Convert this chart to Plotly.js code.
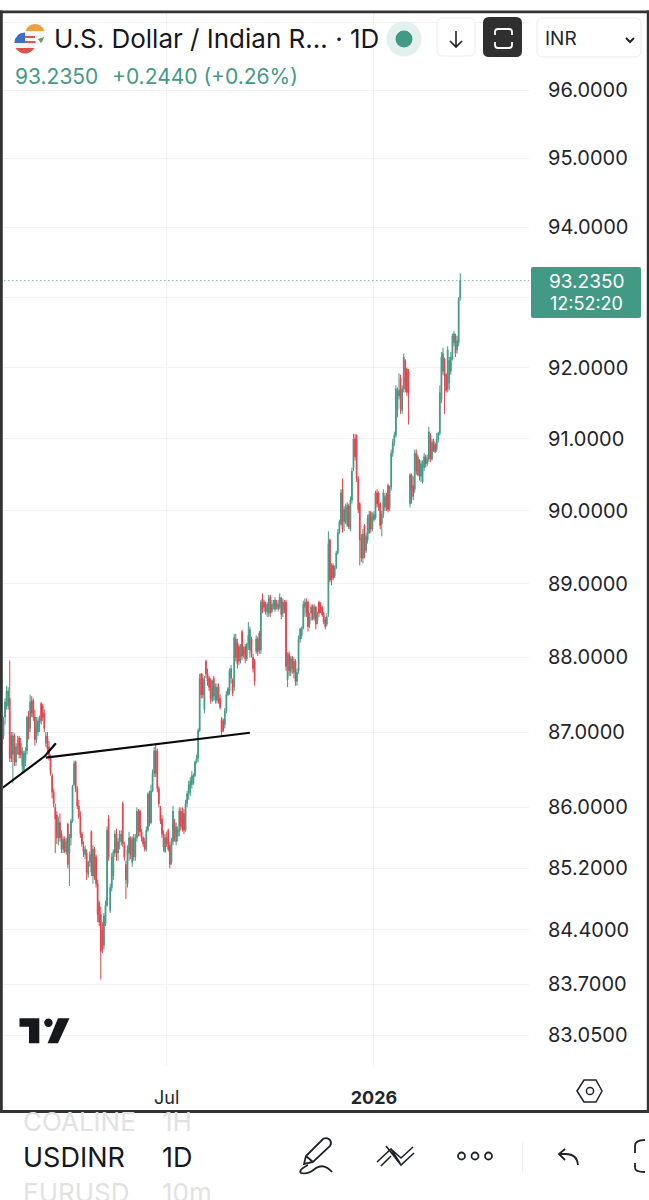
<!DOCTYPE html>
<html><head><meta charset="utf-8">
<script src="https://cdn.plot.ly/plotly-3.0.1.min.js"></script>
<style>html,body{margin:0;padding:0;background:#fff}#c{width:649px;height:1200px}</style>
</head><body><div id="c"></div>
<script>
const opens=[
86.95,87.2,87.35,87.35,87.45,86.95,86.7,86.95,86.6,86.8,
86.92,86.85,86.55,86.5,86.62,86.75,87.2,87.05,87.42,87.42,
87.2,86.9,87,87.12,87.38,87.35,87.25,86.85,86.95,86.8,
86.66,86.42,86.2,86,85.9,85.6,85.8,85.65,85.45,85.58,
85.42,85.78,85.4,85.6,85.82,86.3,86.6,86.25,86.02,85.88,
85.65,85.48,85.38,85.4,85.12,85.28,85.68,85.1,85.45,85.35,
85,84.75,84.6,84.4,84.2,84.48,84.72,85.85,84.65,84.95,
85.1,85.4,85.65,85.4,85.55,85.55,86.05,85.5,85.25,85,
85.4,85.6,85.28,85.6,85.35,85.6,85.95,85.95,85.68,85.6,
85.55,85.45,85.7,86.18,85.8,86.22,86.45,86.75,86.75,86.25,
86,85.85,85.65,85.42,85.6,85.7,85.5,85.28,85.55,85.8,
85.55,85.62,85.68,85.95,85.95,85.92,85.7,86.05,86.18,86.2,
86.3,86.32,86.42,86.6,86.65,87.02,87.78,87.72,87.3,87.95,
87.78,87.72,87.7,87.42,87.72,87.42,87.42,87.6,87.45,87.17,
87.15,87.1,87.28,87.5,87.55,87.72,87.7,87.6,88.25,88.2,
88.15,88,88.35,88.1,88.15,87.98,88.18,88.1,88.25,88,
87.95,88.08,88.25,88.33,88.1,88.8,88.75,88.72,88.62,88.6,
88.82,88.62,88.7,88.65,88.75,88.66,88.68,88.8,88.6,88.75,
88.75,87.7,88.05,87.8,88,87.8,87.95,87.68,87.82,88.25,
88.3,88.4,88.68,88.75,88.75,88.45,88.6,88.7,88.55,88.68,
88.5,88.75,88.72,88.68,88.6,88.52,88.45,88.6,89.6,89.25,
89.25,89.1,89.22,89.42,89.7,89.82,90.3,89.85,89.85,89.8,
90.07,89.75,90.15,90.6,91,91.05,90.45,90.1,89.62,89.35,
89.8,89.45,89.6,89.7,89.98,89.75,89.88,89.9,90.25,90.25,
90.1,89.82,89.95,90.05,90.22,90.35,90.05,90.32,90.8,90.95,
91.05,91.4,91.6,91.85,91.4,91.7,92.1,91.98,91.95,90.1,
90.5,90.35,90.3,90.8,90.5,90.7,90.48,90.4,90.6,90.75,
90.65,90.72,91.05,90.72,90.97,90.92,90.85,91,91.08,91.55,
91.95,92.12,91.9,91.7,91.78,91.95,92.12,92.35,92.45,92.25,
92.35,92.99];
const highs=[
87.2,87.45,87.62,87.6,87.96,87,87,86.98,86.85,86.95,
86.95,86.92,86.8,86.75,86.8,87.22,87.28,87.5,87.48,87.45,
87.3,87.2,87.2,87.22,87.4,87.38,87.3,87,87,86.88,
86.7,86.45,86.25,86.05,85.95,85.88,85.92,85.7,85.62,85.62,
85.6,85.8,85.65,85.85,86.3,86.62,86.62,86.28,86.1,85.95,
85.68,85.55,85.5,85.45,85.3,85.42,85.7,85.5,85.48,85.38,
85.05,84.78,84.7,84.5,84.62,84.78,85.75,85.9,85,85.4,
85.45,85.7,85.72,85.6,85.7,85.7,86.08,85.55,85.3,85.5,
85.68,85.62,85.62,85.65,85.65,86,85.98,85.97,85.72,85.62,
85.6,85.75,86.2,86.22,86.3,86.5,86.8,86.83,86.78,86.28,
86.02,85.9,85.7,85.65,85.68,85.72,85.55,85.6,86.02,85.85,
85.8,85.75,86,86,86,85.98,86.1,86.22,86.35,86.4,
86.48,86.45,86.62,86.7,87.05,87.78,87.79,87.78,87.75,87.97,
87.85,87.75,87.72,87.7,87.75,87.65,87.65,87.65,87.5,87.2,
87.18,87.32,87.55,87.6,87.85,87.9,87.72,88.32,88.32,88.25,
88.18,88.18,88.37,88.15,88.18,88.2,88.48,88.42,88.28,88.05,
87.98,88.3,88.28,88.36,88.78,88.87,88.78,88.76,88.75,88.85,
88.85,88.78,88.78,88.82,88.78,88.78,88.87,88.82,88.8,88.78,
88.78,88.07,88.08,88.02,88.02,88,87.98,87.85,88.3,88.4,
88.42,88.77,88.8,88.8,88.77,88.6,88.72,88.72,88.72,88.7,
88.62,88.77,88.75,88.7,88.62,88.55,88.6,89.72,89.62,89.28,
89.28,89.25,89.45,89.75,89.88,90.3,90.45,90.07,90.1,90.12,
90.1,90.2,90.6,91.07,91.07,91.06,90.48,90.12,89.68,89.75,
89.82,89.7,89.95,90,90,89.98,90,90.28,90.3,90.27,
90.12,90,90.3,90.25,90.25,90.38,90.35,90.85,91,91.1,
91.75,91.72,91.92,91.9,91.75,92.2,92.12,92,91.98,90.52,
90.52,90.48,90.85,90.85,90.78,90.72,90.7,90.7,90.8,90.78,
90.78,91.17,91.08,91,91,90.95,91.08,91.1,91.75,92.22,
92.28,92.14,91.92,92.3,92.15,92.22,92.48,92.52,92.48,92.45,
93,93.34];
const lows=[
86.9,87.1,87.3,87.3,86.6,86.6,86.32,86.55,86.55,86.7,
86.65,86.65,86.45,86.45,86.55,86.7,86.9,87,87.2,87.15,
86.82,86.85,86.95,87,87.1,87.15,87,86.8,86.72,86.62,
86.42,86.12,86,85.4,85.52,85.5,85.55,85.4,85.4,85.4,
85.38,85.2,84.97,85.5,85.8,86.28,86.2,85.98,85.85,85.6,
85.48,85.35,85.32,85.05,85.08,85.22,85.1,85,85.05,84.95,
84.5,84.45,83.76,84.1,84.15,84.45,84.7,85.3,84.62,84.9,
85.05,85.35,85.3,85.3,85.45,85.5,85.48,85.3,84.8,84.95,
85.3,85.32,85.22,85.3,85.3,85.55,85.62,85.62,85.55,85.48,
85.42,85.42,85.68,85.75,85.78,86.2,86.4,86.4,86.2,86,
85.78,85.6,85.42,85.4,85.48,85.42,85.2,85.25,85.5,85.55,
85.5,85.55,85.62,85.7,85.68,85.65,85.68,86,86.1,86.15,
86.25,86.3,86.4,86.58,86.6,87,87.45,87.45,87.25,87.72,
87.62,87.55,87.38,87.4,87.42,87.38,87.38,87.38,87.3,86.95,
87,87.05,87.25,87.48,87.5,87.65,87.48,87.55,87.95,87.85,
87.9,87.92,87.96,88,87.92,87.95,88.1,88,88,87.8,
87.62,88.05,88.02,88.05,88.05,88.6,88.62,88.58,88.55,88.55,
88.55,88.6,88.65,88.62,88.65,88.62,88.65,88.52,88.55,88.6,
87.82,87.6,87.75,87.75,87.78,87.72,87.62,87.62,87.78,88.2,
88.25,88.38,88.55,88.55,88.35,88.4,88.5,88.5,88.5,88.38,
88.45,88.55,88.6,88.55,88.45,88.38,88.42,88.55,89.02,88.98,
89.05,89.08,89.2,89.4,89.68,89.8,89.7,89.72,89.82,89.78,
89.75,89.72,90.1,90.55,90.7,90.4,89.97,89.25,89.3,89.28,
89.35,89.42,89.55,89.68,89.7,89.72,89.85,89.88,90.05,90,
89.75,89.65,89.9,90,90,89.98,90,90.28,90.75,90.9,
91.02,91.3,91.55,91.35,91.35,91.65,91.65,91.6,91.2,90.05,
90.1,90.15,90.25,90.5,90.48,90.42,90.4,90.38,90.55,90.6,
90.62,90.68,90.68,90.7,90.82,90.8,90.82,90.95,91.05,91.5,
91.9,91.35,91.65,91.65,91.68,91.9,92.1,92.3,92.15,92.2,
92.3,92.95];
const closes=[
87.15,87.4,87.55,87.55,86.65,86.65,86.95,86.6,86.8,86.85,
86.7,86.7,86.75,86.72,86.75,87.2,87,87.4,87.25,87.2,
86.9,87.1,87.15,87.18,87.15,87.2,87.05,86.95,86.78,86.66,
86.45,86.2,86.05,85.85,85.6,85.8,85.6,85.45,85.58,85.42,
85.55,85.25,85.62,85.82,86.28,86.58,86.25,86.02,85.88,85.65,
85.52,85.42,85.45,85.15,85.28,85.38,85.15,85.45,85.1,85,
84.6,84.5,84.12,84.15,84.58,84.72,85.7,85.35,84.95,85.35,
85.42,85.65,85.4,85.55,85.65,85.65,85.52,85.35,85.05,85.45,
85.6,85.38,85.58,85.35,85.6,85.95,85.7,85.68,85.6,85.52,
85.45,85.7,86.18,85.8,86.22,86.45,86.75,86.45,86.25,86.05,
85.82,85.65,85.48,85.6,85.52,85.45,85.25,85.55,85.95,85.6,
85.75,85.7,85.95,85.75,85.72,85.7,86.05,86.18,86.3,86.35,
86.42,86.42,86.6,86.65,87.02,87.72,87.5,87.5,87.7,87.78,
87.68,87.6,87.45,87.68,87.48,87.6,87.6,87.42,87.33,87,
87.02,87.28,87.5,87.58,87.82,87.85,87.52,88.27,88,87.92,
87.95,88.12,88.02,88.05,87.98,88.18,88.3,88.38,88.05,87.85,
87.68,88.25,88.08,88.1,88.75,88.65,88.68,88.62,88.72,88.8,
88.6,88.72,88.74,88.78,88.7,88.72,88.82,88.58,88.75,88.65,
87.88,88.02,87.82,87.98,87.85,87.95,87.68,87.8,88.25,88.38,
88.4,88.72,88.75,88.6,88.42,88.55,88.68,88.52,88.68,88.45,
88.58,88.6,88.62,88.58,88.48,88.42,88.55,89.55,89.05,89.05,
89.08,89.22,89.42,89.7,89.85,90.25,89.75,90.02,90.05,90.08,
89.78,90.15,90.55,91,90.75,90.45,90.02,89.6,89.35,89.68,
89.6,89.65,89.9,89.95,89.75,89.92,89.95,90.25,90.1,90.05,
89.8,89.95,90.25,90.2,90.05,90.02,90.32,90.8,90.95,91.05,
91.7,91.65,91.68,91.42,91.7,92.15,91.7,91.65,91.65,90.5,
90.28,90.2,90.8,90.55,90.75,90.48,90.65,90.68,90.75,90.65,
90.72,91.1,90.72,90.95,90.85,90.82,91,91.08,91.65,92.15,
92.2,91.88,91.68,92.25,92.1,92.15,92.45,92.48,92.2,92.38,
92.98,93.235];

const sessions=opens.map((_,i)=>i);
const priceTicks=[97,96,95,94,93,92,91,90,89,88,87,86,85.2,84.4,83.7,83.05];
const priceLabels=['','96.0000','95.0000','94.0000','','92.0000','91.0000','90.0000','89.0000','88.0000','87.0000','86.0000','85.2000','84.4000','83.7000','83.0500'];
const timeTicks=[104,236];
const timeLabels=['Jul','<b>2026</b>'];
const lastPrice=93.235;
const trendA={s:[-0.5,26.4,33.4],p:[86.26,86.68,86.85]};
const trendB={s:[27,157],p:[86.66,86.99]};

const GREEN='#429a85',RED='#e2434e',INK='#1f2229';
const L=3,T=13,W=526,H=1053;
const X=x=>((x-L)/W).toFixed(5), Y=y=>(1-(y-T)/H).toFixed(5);
const P=d=>d.replace(/(-?[\d.]+)[ ,]+(-?[\d.]+)/g,(m,a,b)=>X(+a)+','+Y(+b));
const base={xref:'paper',yref:'paper',layer:'above'};
const path=(d,col,w,fill)=>({...base,type:'path',path:P(d),line:{color:col,width:w},fillcolor:fill||'rgba(0,0,0,0)'});
const rect=(x0,y0,x1,y1,fill)=>({...base,type:'rect',x0:X(x0),x1:X(x1),y0:Y(y0),y1:Y(y1),fillcolor:fill,line:{width:0}});
const circ=(cx,cy,r,fill,col,w)=>({...base,type:'circle',x0:X(cx-r),x1:X(cx+r),y0:Y(cy-r),y1:Y(cy+r),fillcolor:fill,line:col?{color:col,width:w}:{width:0}});
const rr=(x0,y0,x1,y1,r)=>`M ${x0+r} ${y0} L ${x1-r} ${y0} Q ${x1} ${y0} ${x1} ${y0+r} L ${x1} ${y1-r} Q ${x1} ${y1} ${x1-r} ${y1} L ${x0+r} ${y1} Q ${x0} ${y1} ${x0} ${y1-r} L ${x0} ${y0+r} Q ${x0} ${y0} ${x0+r} ${y0} Z`;
const txt=(x,y,text,size,color,anchor,extra)=>({xref:'paper',yref:'paper',x:+X(x),y:+Y(y),text,showarrow:false,xanchor:anchor||'left',yanchor:'middle',font:{size,color,family:'Inter'},...(extra||{})});

const shapes=[
 // India flag disc
 circ(35,34,10,'#f6f6f6'),
 path('M 25.5 31 Q 28 24 35 24 Q 42 24 44.5 31 Z','#f0a23c',0,'#f0a23c'),
 path('M 38 39 L 44 37 Q 43 41 41 43 Z','#5fa05a',0,'#5fa05a'),
 // US flag disc
 circ(25,43,10.5,'#f4f4f4'),
 path('M 14.5 43 Q 15 33 25 32.5 L 25 43 Z','#3f6fc4',0,'#3f6fc4'),
 path('M 15.5 48 L 34.5 48 Q 31 53.5 25 53.5 Q 19 53.5 15.5 48 Z','#d9534f',0,'#d9534f'),
 rect(25,36,35,38,'#d9534f'), rect(25,41,35.5,43,'#d9534f'),
 // status dot
 circ(404,39,17.5,'#e3f1ee'), circ(404,39,8.5,GREEN),
 // buttons
 path(rr(437,18,475,56,6),'#ececec',1,'#ffffff'),
 path('M 456 31 L 456 47 M 450 41 L 456 47 L 462 41',INK,1.6),
 path(rr(483,17,522,57,6),'#2f2f2f',0,'#2f2f2f'),
 path('M 495 35 L 495 32 Q 495 29 498 29 L 509 29 Q 512 29 512 32 L 512 35 M 495 42 L 495 45 Q 495 48 498 48 L 509 48 Q 512 48 512 45 L 512 42','#ffffff',1.8),
 path(rr(537,18,641,57,6),'#ececec',1,'#ffffff'),
 path('M 626 38 L 630 42 L 634 38',INK,2),
 // price tag
 path(rr(531,267,641,318,2),GREEN,0,GREEN),
 // watermark
 path('M 19.5 1018.3 L 39.3 1018.3 L 39.3 1043.3 L 29 1043.3 L 29 1026.7 L 19.5 1026.7 Z','#16181d',0,'#16181d'),
 circ(48.4,1022.7,4.2,'#16181d'),
 path('M 58 1018.3 L 69.5 1018.3 L 58 1043.3 L 47.6 1043.3 Z','#16181d',0,'#16181d'),
 // settings hexagon
 path('M 577 1091 L 584 1080 L 596 1080 L 602 1091 L 596 1102 L 584 1102 Z',INK,1.5),
 circ(590,1091,3.6,'rgba(0,0,0,0)',INK,1.5),
 // frame
 rect(0,10.5,649,13.3,'#333333'), rect(0,10.5,2.8,1113,'#333333'),
 rect(646.8,10.5,649,1113,'#333333'), rect(0,1110,649,1113,'#333333'),
 // toolbar
 path('M 304 1164 L 306 1156 L 323 1139 Q 327 1137 330 1140 Q 332 1143 330 1146 L 313 1162 Z M 306 1156 L 313 1162',INK,1.8),
 path('M 308 1165 Q 298 1170 301 1173 Q 308 1175 316 1168 Q 324 1163 332 1172',INK,1.8),
 path('M 377 1162 L 391 1149 L 400 1163 M 381 1166 L 391 1156 M 391 1149 L 401 1158 L 413 1147 M 386 1146 L 401 1165 L 414 1153',INK,1.6),
 circ(461.5,1156,3.5,'rgba(0,0,0,0)',INK,1.8), circ(475,1156,3.5,'rgba(0,0,0,0)',INK,1.8), circ(488.5,1156,3.5,'rgba(0,0,0,0)',INK,1.8),
 rect(522,1142,523,1172,'#f0f0f0'),
 path('M 578 1165 Q 577 1154 566 1154 L 559 1154 M 565 1149 L 559 1154 L 565 1160',INK,1.8),
 path('M 645 1140 Q 635 1140 635 1146 L 635 1153 M 635 1163 L 635 1168 Q 635 1172 645 1172',INK,1.8)
];

const annotations=[
 txt(52,39,'U.S. Dollar / Indian R... · 1D',26,'#15181e'),
 txt(13,76,'93.2350',21,GREEN),
 txt(110,76,'+0.2440 (+0.26%)',21,GREEN),
 txt(543,39,'INR',19,'#22252b'),
 txt(586,282,'93.2350',19,'#ffffff','center'),
 txt(586,304,'12:52:20',18,'#ffffff','center'),
 txt(21,1122,'COALINE',26,'#e2e2e2'),
 txt(160,1122,'1H',26,'#e2e2e2'),
 txt(21,1157,'USDINR',27,'#15181e'),
 txt(160,1157,'1D',27,'#15181e'),
 txt(21,1192,'EURUSD',26,'#e2e2e2'),
 txt(160,1192,'10m',26,'#e2e2e2')
];

const traces=[
 {type:'scatter',mode:'lines',x:[-2,335],y:[lastPrice,lastPrice],line:{color:GREEN,width:1,dash:'1px 3px'},hoverinfo:'skip'},
 {type:'candlestick',x:sessions,open:opens,high:highs,low:lows,close:closes,whiskerwidth:0,hoverinfo:'skip',
  increasing:{line:{color:GREEN,width:1},fillcolor:GREEN},
  decreasing:{line:{color:RED,width:1},fillcolor:RED}},
 {type:'scatter',mode:'lines',x:trendA.s,y:trendA.p,line:{color:'#0a0a0a',width:2.2},hoverinfo:'skip'},
 {type:'scatter',mode:'lines',x:trendB.s,y:trendB.p,line:{color:'#0a0a0a',width:2.2},hoverinfo:'skip'}
];

const layout={
 width:649,height:1200,showlegend:false,
 paper_bgcolor:'#ffffff',plot_bgcolor:'#ffffff',
 margin:{l:L,r:649-L-W,t:T,b:1200-T-H,pad:0},
 font:{family:'Inter',color:'#22252b'},
 xaxis:{type:'linear',range:[-0.3,334.8],rangeslider:{visible:false},tickmode:'array',tickvals:timeTicks,ticktext:timeLabels,
  showgrid:true,gridcolor:'#f1f2f4',gridwidth:1,zeroline:false,showline:false,ticks:'outside',ticklen:15,tickcolor:'rgba(0,0,0,0)',
  tickfont:{size:18,color:'#22252b',family:'Inter'}},
 yaxis:{type:'log',side:'right',range:[1.91728,1.98740],tickmode:'array',tickvals:priceTicks,ticktext:priceLabels,
  showgrid:true,gridcolor:'#f1f2f4',gridwidth:1,zeroline:false,showline:false,ticks:'outside',ticklen:14,tickcolor:'rgba(0,0,0,0)',
  tickfont:{size:20,color:'#22252b',family:'Inter'}},
 shapes,annotations
};
Plotly.newPlot('c',traces,layout,{staticPlot:true,displayModeBar:false});
</script></body></html>
